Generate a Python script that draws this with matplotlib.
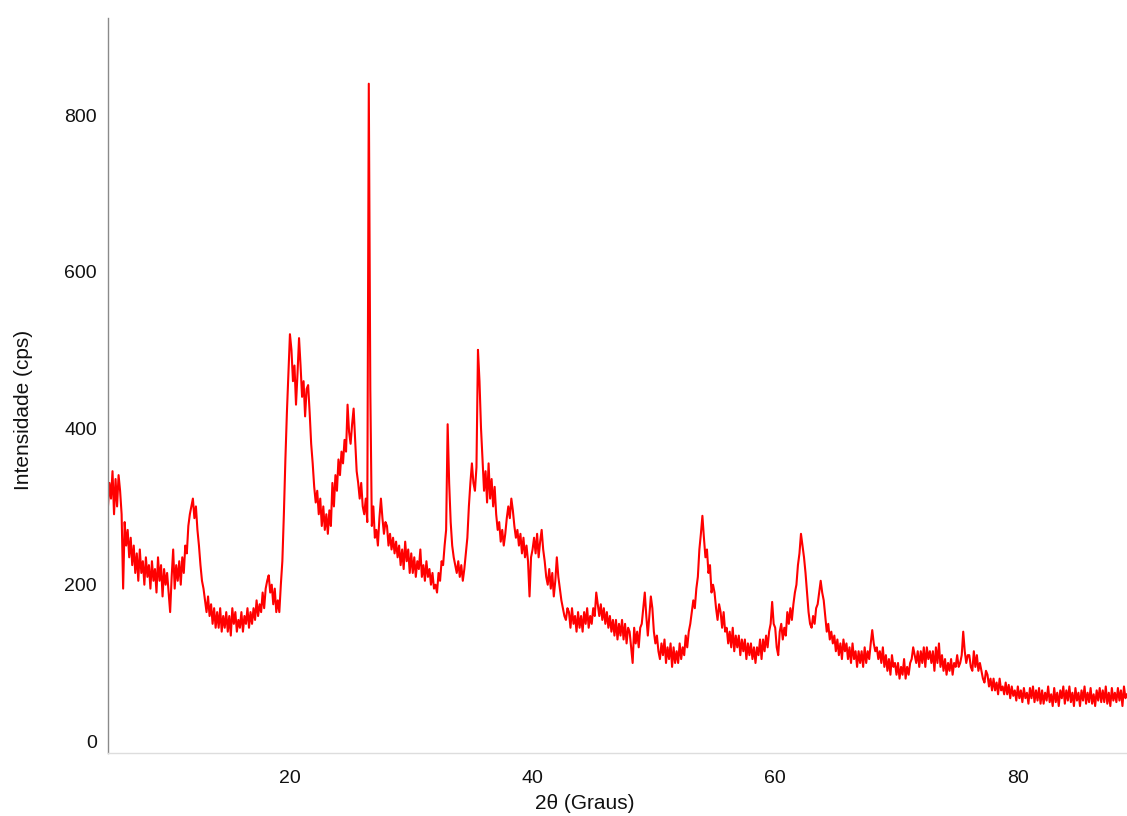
import numpy as np
import matplotlib
matplotlib.use("Agg")
import matplotlib.pyplot as plt

# 2theta grid (degrees), step 0.125 from 5 to 89
two_theta = np.arange(5.0, 89.001, 0.125)

# intensity (cps), 8 values per degree
intensity = [
    300, 330, 310, 345, 290, 335, 300, 340,   # 5
    320, 290, 195, 280, 250, 270, 235, 260,   # 6
    225, 250, 215, 240, 205, 245, 215, 230,   # 7
    200, 235, 210, 225, 195, 230, 205, 220,   # 8
    190, 235, 205, 225, 185, 220, 200, 215,   # 9
    190, 165, 210, 245, 195, 225, 205, 230,   # 10
    200, 235, 215, 250, 240, 275, 290, 300,   # 11
    310, 285, 300, 270, 250, 225, 205, 195,   # 12
    180, 165, 185, 160, 175, 150, 170, 145,   # 13
    165, 145, 170, 140, 160, 145, 165, 140,   # 14
    160, 135, 170, 150, 165, 140, 155, 145,   # 15
    165, 140, 160, 150, 170, 145, 165, 150,   # 16
    170, 155, 180, 160, 175, 165, 190, 170,   # 17
    195, 205, 212, 190, 200, 175, 195, 165,   # 18
    180, 165, 200, 230, 290, 360, 420, 470,   # 19
    520, 500, 460, 480, 430, 470, 515, 480,   # 20
    440, 460, 415, 450, 455, 420, 380, 355,   # 21
    325, 305, 320, 290, 310, 275, 300, 270,   # 22
    290, 265, 295, 275, 330, 300, 340, 320,   # 23
    360, 340, 370, 355, 385, 370, 430, 395,   # 24
    380, 405, 425, 385, 345, 330, 310, 330,   # 25
    300, 290, 310, 280, 840, 450, 275, 300,   # 26
    260, 270, 250, 285, 310, 285, 265, 280,   # 27
    275, 250, 265, 245, 260, 240, 255, 235,   # 28
    250, 225, 245, 220, 255, 230, 245, 215,   # 29
    240, 215, 235, 210, 230, 220, 245, 210,   # 30
    225, 205, 230, 210, 220, 200, 215, 195,   # 31
    200, 190, 215, 205, 230, 225, 250, 270,   # 32
    405, 330, 280, 250, 235, 225, 215, 230,   # 33
    210, 225, 205, 220, 240, 260, 300, 330,   # 34
    355, 330, 320, 350, 500, 460, 400, 360,   # 35
    320, 345, 305, 355, 310, 335, 300, 325,   # 36
    290, 270, 280, 255, 270, 250, 265, 285,   # 37
    300, 285, 310, 295, 275, 260, 270, 250,   # 38
    265, 240, 260, 235, 250, 230, 185, 235,   # 39
    245, 260, 240, 265, 235, 255, 270, 245,   # 40
    230, 210, 200, 220, 195, 215, 185, 205,   # 41
    235, 210, 195, 180, 170, 160, 155, 170,   # 42
    165, 145, 170, 150, 160, 140, 165, 145,   # 43
    160, 140, 165, 150, 170, 145, 160, 150,   # 44
    170, 160, 190, 175, 160, 175, 155, 170,   # 45
    150, 165, 145, 160, 140, 155, 135, 155,   # 46
    130, 150, 135, 155, 130, 150, 125, 145,   # 47
    140, 120, 100, 145, 125, 140, 120, 145,   # 48
    150, 170, 190, 160, 135, 160, 185, 170,   # 49
    140, 125, 135, 115, 105, 125, 110, 130,   # 50
    100, 120, 105, 125, 95, 120, 100, 115,    # 51
    100, 125, 105, 120, 110, 135, 120, 140,   # 52
    150, 165, 180, 170, 195, 210, 245, 265,   # 53
    288, 260, 235, 245, 215, 225, 190, 200,   # 54
    190, 170, 155, 175, 165, 145, 165, 140,   # 55
    145, 125, 140, 120, 145, 115, 135, 120,   # 56
    135, 110, 130, 115, 130, 105, 125, 110,   # 57
    125, 105, 120, 100, 120, 110, 130, 105,   # 58
    130, 115, 135, 120, 140, 150, 178, 150,   # 59
    145, 120, 110, 140, 150, 130, 145, 135,   # 60
    165, 150, 170, 155, 175, 190, 200, 225,   # 61
    240, 265, 250, 235, 215, 190, 165, 150,   # 62
    145, 160, 150, 170, 175, 190, 205, 190,   # 63
    180, 160, 140, 150, 130, 140, 125, 135,   # 64
    115, 130, 110, 125, 105, 130, 115, 125,   # 65
    105, 120, 100, 125, 105, 115, 95, 115,    # 66
    100, 115, 95, 120, 100, 115, 105, 125,    # 67
    142, 125, 115, 120, 105, 115, 100, 120,   # 68
    95, 110, 90, 105, 85, 110, 95, 100,       # 69
    85, 100, 80, 95, 85, 105, 80, 95,         # 70
    85, 100, 105, 120, 110, 100, 115, 95,     # 71
    115, 100, 120, 95, 120, 105, 115, 100,    # 72
    115, 90, 120, 100, 125, 95, 110, 90,      # 73
    105, 85, 100, 90, 105, 85, 100, 95,       # 74
    110, 95, 100, 110, 140, 115, 100, 110,    # 75
    110, 95, 90, 115, 95, 110, 90, 100,       # 76
    90, 80, 75, 90, 85, 70, 80, 65,           # 77
    80, 65, 75, 60, 80, 65, 70, 60,           # 78
    75, 60, 72, 55, 70, 58, 65, 52,           # 79
    70, 55, 65, 50, 68, 55, 62, 48,           # 80
    68, 55, 70, 50, 65, 52, 68, 48,           # 81
    65, 48, 62, 52, 70, 50, 60, 45,           # 82
    68, 50, 62, 45, 65, 55, 70, 48,           # 83
    65, 52, 70, 50, 62, 45, 68, 52,           # 84
    62, 45, 65, 52, 70, 48, 62, 50,           # 85
    68, 48, 60, 45, 65, 52, 68, 50,           # 86
    65, 50, 70, 48, 62, 45, 68, 52,           # 87
    62, 50, 68, 52, 65, 45, 70, 55,           # 88
    60,                                       # 89
]

y_ticks = [0, 200, 400, 600, 800]
x_ticks = [20, 40, 60, 80]

plt.rcParams['font.family'] = ['Liberation Sans', 'DejaVu Sans']

fig = plt.figure(figsize=(11.27, 8.16), dpi=100)
ax = fig.add_axes([0.0958, 0.0772, 0.9042, 0.9008])

ax.plot(two_theta, intensity, color='#ff0000', linewidth=1.5)

ax.set_xlim(5.0, 89.0)
ax.set_ylim(-15, 924)
ax.set_xticks(x_ticks)
ax.set_yticks(y_ticks)
ax.tick_params(axis='both', length=0, labelsize=14, colors='#111111')
ax.tick_params(axis='x', pad=12)
ax.tick_params(axis='y', pad=8)

for s in ['top', 'right']:
    ax.spines[s].set_visible(False)
ax.spines['left'].set_color('#8a8a8a')
ax.spines['left'].set_linewidth(1.0)
ax.spines['bottom'].set_color('#dddddd')
ax.spines['bottom'].set_linewidth(1.0)

ax.set_xlabel('2θ (Graus)', fontsize=15, color='#111111')
ax.set_ylabel('Intensidade (cps)', fontsize=15, color='#111111')
ax.xaxis.set_label_coords(0.468, -0.056)
ax.yaxis.set_label_coords(-0.074, 0.467)

fig.savefig('out.png', dpi=100)
